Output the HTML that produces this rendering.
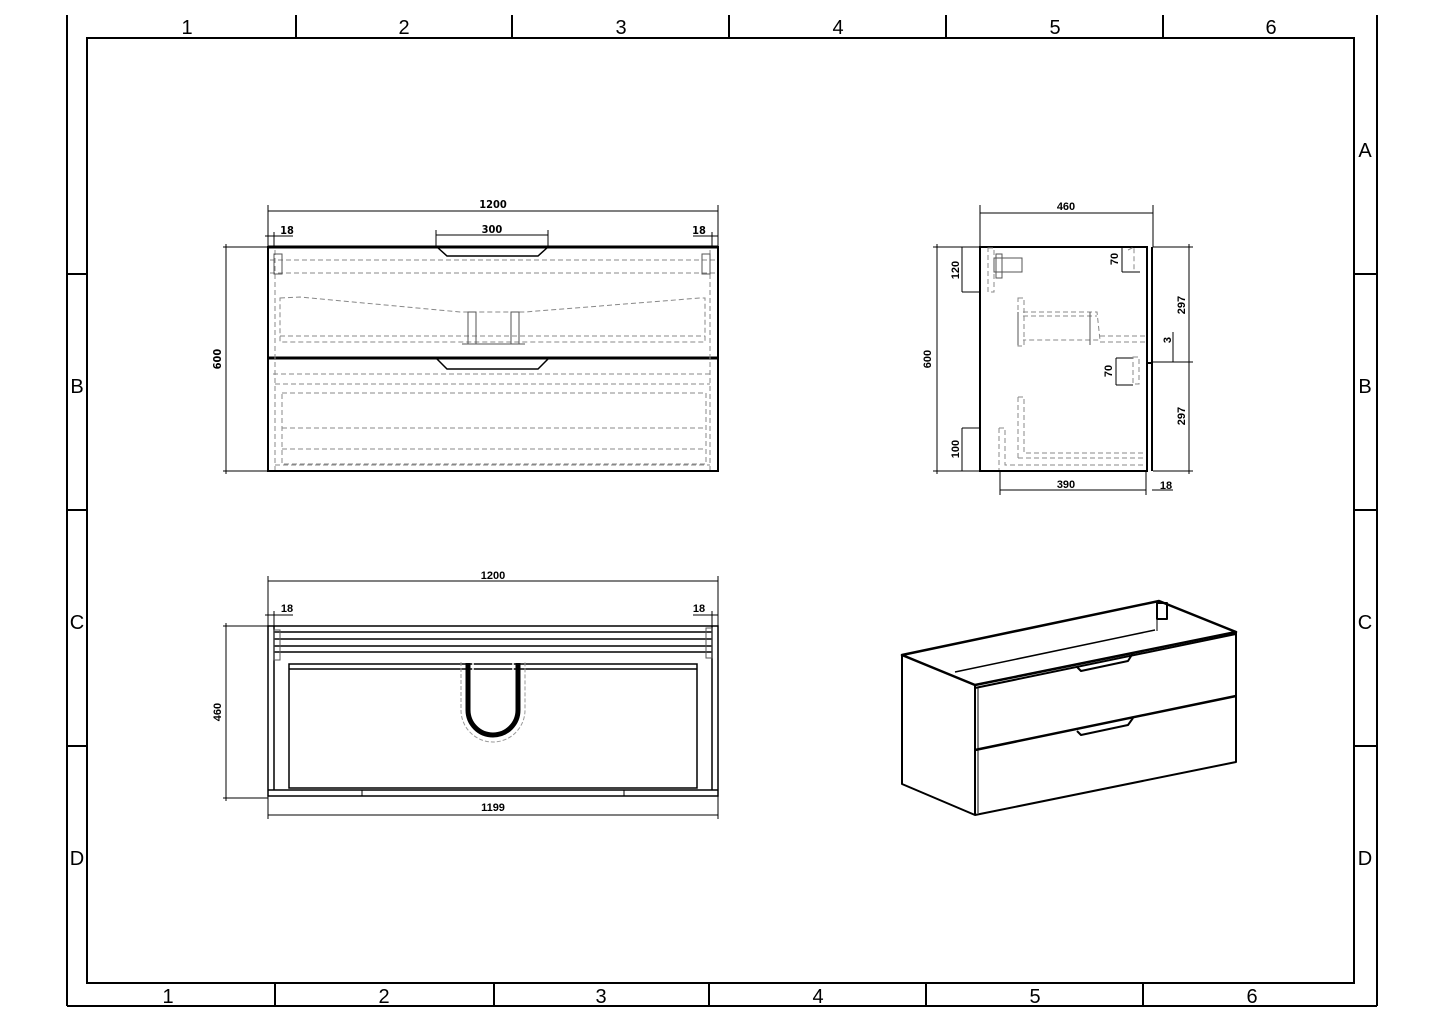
<!DOCTYPE html>
<html><head><meta charset="utf-8"><style>
html,body{margin:0;padding:0;background:#fff}
svg{display:block}
text{font-family:"Liberation Sans",sans-serif;fill:#000}
.d{font-family:"DejaVu Sans Condensed","Liberation Sans",sans-serif;font-weight:bold;font-size:11px}
</style></head><body>
<svg width="1445" height="1022" viewBox="0 0 1445 1022" xmlns="http://www.w3.org/2000/svg">
<g stroke="#000" stroke-width="2" fill="none">
<line x1="67" y1="15" x2="67" y2="1006"/>
<line x1="1377" y1="15" x2="1377" y2="1006"/>
<line x1="67" y1="1006" x2="1377" y2="1006"/>
<rect x="87" y="38" width="1267" height="945"/>
<line x1="296" y1="15" x2="296" y2="38"/><line x1="512" y1="15" x2="512" y2="38"/>
<line x1="729" y1="15" x2="729" y2="38"/><line x1="946" y1="15" x2="946" y2="38"/>
<line x1="1163" y1="15" x2="1163" y2="38"/>
<line x1="275" y1="983" x2="275" y2="1006"/><line x1="494" y1="983" x2="494" y2="1006"/>
<line x1="709" y1="983" x2="709" y2="1006"/><line x1="926" y1="983" x2="926" y2="1006"/>
<line x1="1143" y1="983" x2="1143" y2="1006"/>
<line x1="67" y1="274" x2="87" y2="274"/><line x1="67" y1="510" x2="87" y2="510"/><line x1="67" y1="746" x2="87" y2="746"/>
<line x1="1354" y1="274" x2="1377" y2="274"/><line x1="1354" y1="510" x2="1377" y2="510"/><line x1="1354" y1="746" x2="1377" y2="746"/>
</g>
<g font-size="20" text-anchor="middle">
<text x="187" y="34">1</text><text x="404" y="34">2</text><text x="621" y="34">3</text><text x="838" y="34">4</text><text x="1055" y="34">5</text><text x="1271" y="34">6</text>
<text x="168" y="1003">1</text><text x="384" y="1003">2</text><text x="601" y="1003">3</text><text x="818" y="1003">4</text><text x="1035" y="1003">5</text><text x="1252" y="1003">6</text>
<text x="77" y="393">B</text><text x="77" y="629">C</text><text x="77" y="865">D</text>
<text x="1365" y="157">A</text><text x="1365" y="393">B</text><text x="1365" y="629">C</text><text x="1365" y="865">D</text>
</g>

<!-- FRONT VIEW -->
<g stroke="#000" fill="none">
<rect x="268" y="247" width="450" height="224" stroke-width="2"/>
<line x1="268" y1="247" x2="718" y2="247" stroke-width="3"/>
<line x1="268" y1="358" x2="718" y2="358" stroke-width="3"/>
<path d="M437,247 L447,256 L538,256 L548,247" stroke-width="1.5"/>
<path d="M437,359 L447,369 L538,369 L548,359" stroke-width="1.5"/>
<line x1="268" y1="211" x2="718" y2="211" stroke-width="1"/>
<line x1="268" y1="205" x2="268" y2="247" stroke-width="1"/>
<line x1="718" y1="205" x2="718" y2="247" stroke-width="1"/>
<line x1="436" y1="235" x2="548" y2="235" stroke-width="1"/>
<line x1="436" y1="230" x2="436" y2="247" stroke-width="1"/><line x1="548" y1="230" x2="548" y2="247" stroke-width="1"/>
<line x1="265" y1="236" x2="293" y2="236" stroke-width="1"/><line x1="274" y1="232" x2="274" y2="247" stroke-width="1"/>
<line x1="693" y1="236" x2="718" y2="236" stroke-width="1"/><line x1="712" y1="232" x2="712" y2="247" stroke-width="1"/>
<line x1="223" y1="247" x2="268" y2="247" stroke-width="1"/><line x1="223" y1="471" x2="268" y2="471" stroke-width="1"/>
<line x1="226" y1="244" x2="226" y2="474" stroke-width="1"/>
</g>
<g stroke="#888" fill="none" stroke-width="1" stroke-dasharray="5,3">
<line x1="270" y1="260" x2="716" y2="260"/><line x1="270" y1="273" x2="716" y2="273"/>
<path d="M280,298 L300,297 L460,312 L525,312 L700,298 L705,298 L705,342 L280,342 Z"/>
<line x1="280" y1="336" x2="705" y2="336"/>
<line x1="273" y1="374" x2="713" y2="374"/><line x1="275" y1="384" x2="710" y2="384"/>
<rect x="282" y="393" width="424" height="71"/>
<line x1="282" y1="428" x2="706" y2="428"/><line x1="282" y1="449" x2="706" y2="449"/>
<line x1="275" y1="465" x2="710" y2="465"/>
<line x1="275" y1="250" x2="275" y2="470"/><line x1="710" y1="250" x2="710" y2="470"/>
</g>
<g stroke="#555" fill="none" stroke-width="1">
<rect x="274" y="254" width="8" height="20"/><rect x="702" y="254" width="8" height="20"/>
<rect x="468" y="312" width="8" height="32"/><rect x="511" y="312" width="8" height="32"/>
<line x1="462" y1="344" x2="525" y2="344"/>
</g>
<g class="d" text-anchor="middle">
<text x="493" y="208" class="d">1200</text>
<text x="492" y="233" class="d">300</text>
<text x="287" y="234" class="d">18</text>
<text x="699" y="234" class="d">18</text>
<text x="221" y="359" class="d" transform="rotate(-90 221 359)">600</text>
</g>

<!-- SIDE VIEW -->
<g stroke="#000" fill="none">
<rect x="980" y="247" width="167" height="224" stroke-width="2"/>
<line x1="1152" y1="247" x2="1152" y2="471" stroke-width="2"/>
<line x1="1147" y1="363" x2="1152" y2="363" stroke-width="2"/>
<line x1="980" y1="213" x2="1153" y2="213" stroke-width="1"/>
<line x1="980" y1="205" x2="980" y2="247" stroke-width="1"/><line x1="1153" y1="205" x2="1153" y2="247" stroke-width="1"/>
<line x1="933" y1="247" x2="980" y2="247" stroke-width="1"/><line x1="933" y1="471" x2="980" y2="471" stroke-width="1"/>
<line x1="937" y1="244" x2="937" y2="474" stroke-width="1"/>
<line x1="962" y1="247" x2="962" y2="292" stroke-width="1"/><line x1="962" y1="292" x2="980" y2="292" stroke-width="1"/>
<line x1="962" y1="428" x2="962" y2="471" stroke-width="1"/><line x1="962" y1="428" x2="980" y2="428" stroke-width="1"/>
<line x1="1122" y1="247" x2="1122" y2="272" stroke-width="1"/><line x1="1122" y1="272" x2="1140" y2="272" stroke-width="1"/>
<line x1="1116" y1="358" x2="1116" y2="385" stroke-width="1"/><line x1="1116" y1="358" x2="1133" y2="358" stroke-width="1"/><line x1="1116" y1="385" x2="1133" y2="385" stroke-width="1"/>
<line x1="1153" y1="247" x2="1193" y2="247" stroke-width="1"/><line x1="1153" y1="362" x2="1193" y2="362" stroke-width="1"/><line x1="1153" y1="471" x2="1193" y2="471" stroke-width="1"/>
<line x1="1189" y1="244" x2="1189" y2="474" stroke-width="1"/>
<line x1="1173" y1="332" x2="1173" y2="362" stroke-width="1"/>
<line x1="1000" y1="490" x2="1146" y2="490" stroke-width="1"/><line x1="1000" y1="471" x2="1000" y2="495" stroke-width="1"/>
<line x1="1146" y1="471" x2="1146" y2="495" stroke-width="1"/>
<line x1="1152" y1="490" x2="1173" y2="490" stroke-width="1"/>
</g>
<g stroke="#888" fill="none" stroke-width="1" stroke-dasharray="5,3">
<rect x="988" y="248" width="6" height="44"/>
<rect x="1018" y="298" width="6" height="48"/>
<path d="M1023,312 L1097,312 L1100,340 L1023,340"/>
<line x1="1023" y1="316" x2="1097" y2="316"/>
<line x1="1100" y1="336" x2="1146" y2="336"/><line x1="1100" y1="342" x2="1146" y2="342"/>
<rect x="1133" y="357" width="6" height="27"/>
<path d="M1018,397 L1024,397 L1024,453 L1146,453"/><line x1="1018" y1="397" x2="1018" y2="458"/><line x1="1018" y1="458" x2="1146" y2="458"/>
<path d="M999,428 L1005,428 L1005,465 L1146,465"/><line x1="999" y1="428" x2="999" y2="470"/>
<path d="M1128,250 L1134,247 L1134,272"/>
</g>
<g stroke="#555" fill="none" stroke-width="1">
<rect x="994" y="258" width="28" height="14"/><rect x="996" y="254" width="6" height="24"/>
<line x1="1018" y1="312" x2="1018" y2="345"/><line x1="1090" y1="312" x2="1090" y2="345"/>
</g>
<g class="d" text-anchor="middle">
<text x="1066" y="210">460</text>
<text x="1066" y="488">390</text>
<text x="1166" y="489">18</text>
<text x="931" y="359" transform="rotate(-90 931 359)">600</text>
<text x="959" y="270" transform="rotate(-90 959 270)">120</text>
<text x="959" y="449" transform="rotate(-90 959 449)">100</text>
<text x="1118" y="259" transform="rotate(-90 1118 259)">70</text>
<text x="1112" y="371" transform="rotate(-90 1112 371)">70</text>
<text x="1185" y="305" transform="rotate(-90 1185 305)">297</text>
<text x="1185" y="416" transform="rotate(-90 1185 416)">297</text>
<text x="1171" y="340" transform="rotate(-90 1171 340)">3</text>
</g>

<!-- TOP VIEW -->
<g stroke="#000" fill="none">
<rect x="268" y="626" width="450" height="170" stroke-width="1.5"/>
<line x1="274" y1="626" x2="274" y2="790" stroke-width="1.5"/><line x1="712" y1="626" x2="712" y2="790" stroke-width="1.5"/>
<line x1="274" y1="632" x2="712" y2="632" stroke-width="1.5"/>
<line x1="274" y1="639" x2="712" y2="639" stroke-width="1.5"/>
<line x1="274" y1="646" x2="712" y2="646" stroke-width="1.5"/>
<line x1="274" y1="652" x2="712" y2="652" stroke-width="1.5"/>
<rect x="289" y="664" width="408" height="124" stroke-width="1.5"/>
<line x1="289" y1="669" x2="697" y2="669" stroke-width="1.5"/>
<line x1="268" y1="790" x2="718" y2="790" stroke-width="1.5"/>
<line x1="362" y1="790" x2="362" y2="796" stroke-width="1"/><line x1="624" y1="790" x2="624" y2="796" stroke-width="1"/>
<path d="M468,663 L468,710 A25,25 0 0 0 518,710 L518,663" stroke-width="5"/>
<path d="M473,663 L473,710 A20,20 0 0 0 513,710 L513,663" stroke="#fff" stroke-width="1.5"/>
<line x1="268" y1="581" x2="718" y2="581" stroke-width="1"/>
<line x1="268" y1="576" x2="268" y2="626" stroke-width="1"/><line x1="718" y1="576" x2="718" y2="626" stroke-width="1"/>
<line x1="265" y1="615" x2="293" y2="615" stroke-width="1"/><line x1="274" y1="611" x2="274" y2="626" stroke-width="1"/>
<line x1="693" y1="615" x2="718" y2="615" stroke-width="1"/><line x1="712" y1="611" x2="712" y2="626" stroke-width="1"/>
<line x1="223" y1="626" x2="268" y2="626" stroke-width="1"/><line x1="223" y1="798" x2="268" y2="798" stroke-width="1"/>
<line x1="226" y1="623" x2="226" y2="801" stroke-width="1"/>
<line x1="268" y1="815" x2="718" y2="815" stroke-width="1"/>
<line x1="268" y1="796" x2="268" y2="819" stroke-width="1"/><line x1="718" y1="796" x2="718" y2="819" stroke-width="1"/>
<rect x="274" y="630" width="6" height="30" stroke="#555" stroke-width="1"/>
<rect x="706" y="628" width="6" height="30" stroke="#555" stroke-width="1"/>
</g>
<path d="M461,662 L461,710 A32,32 0 0 0 525,710 L525,662" stroke="#999" stroke-dasharray="4,2" fill="none"/>
<g class="d" text-anchor="middle">
<text x="493" y="579">1200</text>
<text x="287" y="612">18</text><text x="699" y="612">18</text>
<text x="493" y="811">1199</text>
<text x="221" y="712" transform="rotate(-90 221 712)">460</text>
</g>

<!-- ISO VIEW -->
<g stroke="#000" fill="none" stroke-linejoin="round">
<path d="M902,655 L1159,601 L1236,632 L975,685 Z" stroke-width="2.5"/>
<path d="M902,655 L902,784 L975,815 L1236,762 L1236,632" stroke-width="2"/>
<line x1="975" y1="685" x2="975" y2="815" stroke-width="2"/>
<line x1="978" y1="687" x2="978" y2="813" stroke-width="1"/>
<line x1="975" y1="688" x2="1236" y2="634" stroke-width="2"/>
<line x1="975" y1="750" x2="1236" y2="696" stroke-width="2.5"/>
<line x1="955" y1="672" x2="1155" y2="630" stroke-width="1.5"/>
<line x1="1157" y1="620" x2="1157" y2="631" stroke-width="1"/>
<rect x="1157" y="603" width="10" height="16" stroke-width="2"/>
<path d="M1077,667 L1081,671 L1128,661 L1133,653" stroke-width="2"/>
<path d="M1077,731 L1081,735 L1128,725 L1133,718" stroke-width="2"/>
</g>
</svg>
</body></html>
